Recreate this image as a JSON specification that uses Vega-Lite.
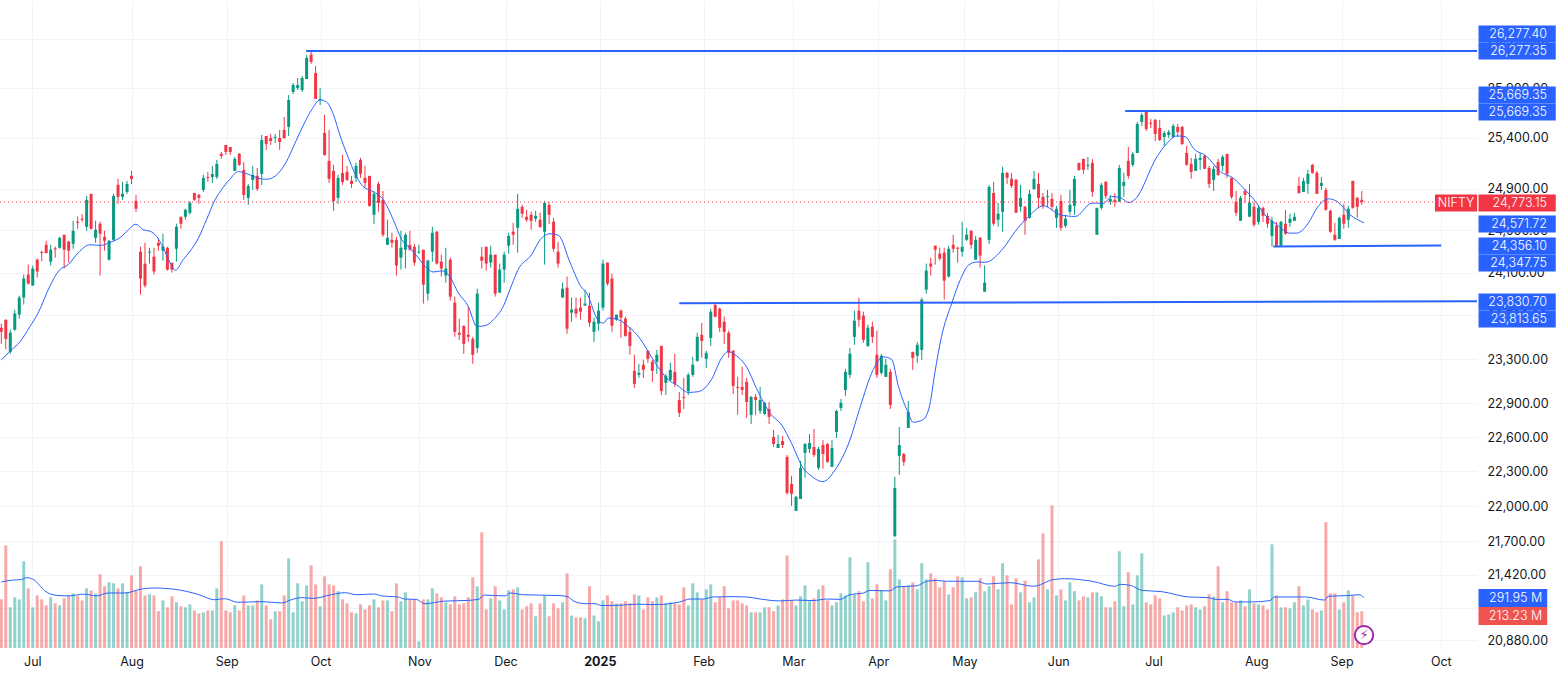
{"$schema":"https://vega.github.io/schema/vega-lite/v6.json","width":1477,"height":648,"autosize":"none","padding":{"left":0,"top":0,"right":91,"bottom":27},"background":"white","config":{"view":{"stroke":null},"font":"Inter"},
"datasets":{"candles":[
{"i":0,"o":23587,"h":23624,"l":23439,"c":23549,"v":282},{"i":1,"o":23661,"h":23661,"l":23390,"c":23484,"v":595},{"i":2,"o":23366,"h":23569,"l":23348,"c":23541,"v":236},{"i":3,"o":23568,"h":23754,"l":23559,"c":23717,"v":294},{"i":4,"o":23708,"h":23884,"l":23670,"c":23866,"v":282},{"i":5,"o":23866,"h":24081,"l":23801,"c":24044,"v":503},{"i":6,"o":24081,"h":24175,"l":23987,"c":23997,"v":346},{"i":7,"o":23978,"h":24166,"l":23978,"c":24138,"v":236},{"i":8,"o":24222,"h":24232,"l":24053,"c":24110,"v":305},{"i":9,"o":24294,"h":24310,"l":24207,"c":24285,"v":282},
{"i":10,"o":24363,"h":24401,"l":24279,"c":24285,"v":247},{"i":11,"o":24203,"h":24363,"l":24166,"c":24316,"v":294},{"i":12,"o":24329,"h":24347,"l":24241,"c":24319,"v":259},{"i":13,"o":24335,"h":24439,"l":24325,"c":24429,"v":247},{"i":14,"o":24458,"h":24458,"l":24138,"c":24316,"v":288},{"i":15,"o":24394,"h":24401,"l":24194,"c":24307,"v":305},{"i":16,"o":24372,"h":24592,"l":24325,"c":24496,"v":317},{"i":17,"o":24583,"h":24634,"l":24516,"c":24573,"v":300},{"i":18,"o":24612,"h":24656,"l":24583,"c":24602,"v":276},{"i":19,"o":24535,"h":24832,"l":24496,"c":24794,"v":346},
{"i":20,"o":24852,"h":24852,"l":24506,"c":24516,"v":334},{"i":21,"o":24429,"h":24592,"l":24382,"c":24506,"v":317},{"i":22,"o":24564,"h":24583,"l":24072,"c":24468,"v":427},{"i":23,"o":24439,"h":24496,"l":24307,"c":24401,"v":358},{"i":24,"o":24222,"h":24410,"l":24213,"c":24401,"v":381},{"i":25,"o":24410,"h":24852,"l":24401,"c":24832,"v":375},{"i":26,"o":24939,"h":24998,"l":24756,"c":24823,"v":346},{"i":27,"o":24823,"h":24968,"l":24794,"c":24852,"v":375},{"i":28,"o":24871,"h":24978,"l":24852,"c":24948,"v":323},{"i":29,"o":25027,"h":25076,"l":24948,"c":24997,"v":421},
{"i":30,"o":24784,"h":24842,"l":24679,"c":24708,"v":334},{"i":31,"o":24297,"h":24344,"l":23894,"c":24044,"v":474},{"i":32,"o":24184,"h":24382,"l":23959,"c":23978,"v":305},{"i":33,"o":24288,"h":24335,"l":24184,"c":24297,"v":311},{"i":34,"o":24250,"h":24335,"l":24081,"c":24110,"v":305},{"i":35,"o":24382,"h":24420,"l":24307,"c":24354,"v":213},{"i":36,"o":24307,"h":24468,"l":24213,"c":24347,"v":276},{"i":37,"o":24335,"h":24344,"l":24119,"c":24128,"v":236},{"i":38,"o":24191,"h":24194,"l":24100,"c":24128,"v":300},{"i":39,"o":24325,"h":24564,"l":24203,"c":24535,"v":265},
{"i":40,"o":24631,"h":24631,"l":24516,"c":24564,"v":242},{"i":41,"o":24631,"h":24708,"l":24602,"c":24698,"v":236},{"i":42,"o":24669,"h":24784,"l":24650,"c":24765,"v":253},{"i":43,"o":24861,"h":24861,"l":24784,"c":24794,"v":218},{"i":44,"o":24842,"h":24852,"l":24756,"c":24813,"v":201},{"i":45,"o":24890,"h":25037,"l":24871,"c":25007,"v":207},{"i":46,"o":25017,"h":25066,"l":24968,"c":25007,"v":218},{"i":47,"o":25017,"h":25125,"l":24958,"c":25046,"v":218},{"i":48,"o":25017,"h":25184,"l":24997,"c":25145,"v":346},{"i":49,"o":25243,"h":25262,"l":25194,"c":25223,"v":619},
{"i":50,"o":25331,"h":25331,"l":25233,"c":25262,"v":218},{"i":51,"o":25311,"h":25311,"l":25233,"c":25262,"v":207},{"i":52,"o":25076,"h":25213,"l":25076,"c":25194,"v":247},{"i":53,"o":25243,"h":25252,"l":25125,"c":25135,"v":218},{"i":54,"o":25086,"h":25164,"l":24794,"c":24842,"v":305},{"i":55,"o":24813,"h":24948,"l":24746,"c":24929,"v":247},{"i":56,"o":24988,"h":25125,"l":24890,"c":25037,"v":247},{"i":57,"o":25027,"h":25105,"l":24880,"c":24899,"v":276},{"i":58,"o":25046,"h":25430,"l":24939,"c":25380,"v":369},{"i":59,"o":25420,"h":25420,"l":25282,"c":25341,"v":247},
{"i":60,"o":25400,"h":25440,"l":25331,"c":25370,"v":166},{"i":61,"o":25400,"h":25440,"l":25351,"c":25410,"v":213},{"i":62,"o":25400,"h":25480,"l":25282,"c":25360,"v":213},{"i":63,"o":25480,"h":25610,"l":25390,"c":25400,"v":305},{"i":64,"o":25510,"h":25830,"l":25420,"c":25780,"v":520},{"i":65,"o":25860,"h":25951,"l":25840,"c":25931,"v":207},{"i":66,"o":25900,"h":26002,"l":25880,"c":25931,"v":375},{"i":67,"o":25880,"h":26023,"l":25860,"c":26002,"v":271},{"i":68,"o":25992,"h":26237,"l":25992,"c":26206,"v":363},{"i":69,"o":26240,"h":26277,"l":26145,"c":26166,"v":479},
{"i":70,"o":26053,"h":26125,"l":25790,"c":25790,"v":369},{"i":71,"o":25780,"h":25900,"l":25730,"c":25790,"v":242},{"i":72,"o":25450,"h":25630,"l":25223,"c":25233,"v":416},{"i":73,"o":25174,"h":25480,"l":24958,"c":24997,"v":369},{"i":74,"o":25076,"h":25135,"l":24688,"c":24784,"v":363},{"i":75,"o":24813,"h":25037,"l":24756,"c":25007,"v":329},{"i":76,"o":25056,"h":25233,"l":24939,"c":24968,"v":282},{"i":77,"o":25066,"h":25125,"l":24978,"c":24988,"v":259},{"i":78,"o":24978,"h":25027,"l":24910,"c":24949,"v":207},{"i":79,"o":25008,"h":25155,"l":24968,"c":25125,"v":201},
{"i":80,"o":25184,"h":25204,"l":25008,"c":25047,"v":253},{"i":81,"o":25008,"h":25125,"l":24910,"c":24959,"v":224},{"i":82,"o":25027,"h":25027,"l":24727,"c":24736,"v":247},{"i":83,"o":24650,"h":24880,"l":24563,"c":24852,"v":282},{"i":84,"o":24949,"h":24968,"l":24679,"c":24765,"v":236},{"i":85,"o":24794,"h":24880,"l":24439,"c":24458,"v":276},{"i":86,"o":24363,"h":24602,"l":24363,"c":24429,"v":276},{"i":87,"o":24410,"h":24477,"l":24335,"c":24382,"v":213},{"i":88,"o":24410,"h":24439,"l":24072,"c":24166,"v":375},{"i":89,"o":24241,"h":24496,"l":24128,"c":24335,"v":271},
{"i":90,"o":24316,"h":24477,"l":24138,"c":24458,"v":323},{"i":91,"o":24363,"h":24496,"l":24307,"c":24316,"v":282},{"i":92,"o":24344,"h":24372,"l":24166,"c":24194,"v":282},{"i":93,"o":24288,"h":24363,"l":24279,"c":24297,"v":39},{"i":94,"o":24316,"h":24316,"l":23810,"c":23987,"v":282},{"i":95,"o":23903,"h":24222,"l":23838,"c":24213,"v":282},{"i":96,"o":24297,"h":24535,"l":24203,"c":24477,"v":346},{"i":97,"o":24487,"h":24496,"l":24175,"c":24185,"v":317},{"i":98,"o":24203,"h":24269,"l":24063,"c":24138,"v":294},{"i":99,"o":24072,"h":24335,"l":24006,"c":24138,"v":265},
{"i":100,"o":24222,"h":24241,"l":23838,"c":23875,"v":253},{"i":101,"o":23819,"h":23875,"l":23503,"c":23549,"v":300},{"i":102,"o":23540,"h":23670,"l":23475,"c":23522,"v":253},{"i":103,"o":23605,"h":23605,"l":23348,"c":23439,"v":259},{"i":104,"o":23522,"h":23782,"l":23457,"c":23503,"v":294},{"i":105,"o":23484,"h":23503,"l":23257,"c":23339,"v":410},{"i":106,"o":23402,"h":23949,"l":23357,"c":23903,"v":358},{"i":107,"o":24250,"h":24344,"l":24138,"c":24213,"v":671},{"i":108,"o":24344,"h":24344,"l":24119,"c":24185,"v":224},{"i":109,"o":24194,"h":24354,"l":24147,"c":24269,"v":288},
{"i":110,"o":24269,"h":24269,"l":23875,"c":23903,"v":358},{"i":111,"o":23912,"h":24185,"l":23912,"c":24128,"v":276},{"i":112,"o":24128,"h":24297,"l":24006,"c":24269,"v":224},{"i":113,"o":24354,"h":24477,"l":24279,"c":24448,"v":334},{"i":114,"o":24487,"h":24573,"l":24363,"c":24458,"v":340},{"i":115,"o":24525,"h":24852,"l":24288,"c":24708,"v":352},{"i":116,"o":24727,"h":24746,"l":24621,"c":24660,"v":224},{"i":117,"o":24631,"h":24698,"l":24583,"c":24602,"v":242},{"i":118,"o":24650,"h":24679,"l":24506,"c":24592,"v":259},{"i":119,"o":24612,"h":24688,"l":24583,"c":24640,"v":184},
{"i":120,"o":24602,"h":24669,"l":24525,"c":24532,"v":259},{"i":121,"o":24487,"h":24784,"l":24175,"c":24765,"v":305},{"i":122,"o":24746,"h":24775,"l":24563,"c":24650,"v":184},{"i":123,"o":24583,"h":24621,"l":24297,"c":24325,"v":259},{"i":124,"o":24297,"h":24391,"l":24147,"c":24185,"v":230},{"i":125,"o":23866,"h":24006,"l":23866,"c":23949,"v":265},{"i":126,"o":23959,"h":24063,"l":23531,"c":23577,"v":433},{"i":127,"o":23726,"h":23866,"l":23643,"c":23754,"v":189},{"i":128,"o":23763,"h":23866,"l":23680,"c":23717,"v":178},{"i":129,"o":23773,"h":23866,"l":23661,"c":23735,"v":178},
{"i":130,"o":23791,"h":23940,"l":23791,"c":23810,"v":172},{"i":131,"o":23791,"h":23912,"l":23596,"c":23633,"v":358},{"i":132,"o":23549,"h":23680,"l":23457,"c":23642,"v":189},{"i":133,"o":23624,"h":23819,"l":23559,"c":23745,"v":155},{"i":134,"o":23773,"h":24222,"l":23745,"c":24185,"v":276},{"i":135,"o":24194,"h":24194,"l":23977,"c":23996,"v":305},{"i":136,"o":24043,"h":24090,"l":23549,"c":23605,"v":271},{"i":137,"o":23661,"h":23707,"l":23651,"c":23707,"v":259},{"i":138,"o":23745,"h":23754,"l":23494,"c":23680,"v":259},{"i":139,"o":23670,"h":23689,"l":23503,"c":23512,"v":271},
{"i":140,"o":23549,"h":23596,"l":23339,"c":23420,"v":259},{"i":141,"o":23193,"h":23339,"l":23038,"c":23075,"v":311},{"i":142,"o":23157,"h":23257,"l":23130,"c":23175,"v":305},{"i":143,"o":23248,"h":23293,"l":23130,"c":23202,"v":224},{"i":144,"o":23375,"h":23384,"l":23266,"c":23302,"v":294},{"i":145,"o":23275,"h":23293,"l":23093,"c":23193,"v":271},{"i":146,"o":23275,"h":23384,"l":23166,"c":23339,"v":294},{"i":147,"o":23420,"h":23420,"l":22975,"c":23011,"v":305},{"i":148,"o":23084,"h":23166,"l":22975,"c":23148,"v":259},{"i":149,"o":23111,"h":23266,"l":23102,"c":23202,"v":265},
{"i":150,"o":23184,"h":23348,"l":23048,"c":23075,"v":259},{"i":151,"o":22931,"h":23002,"l":22779,"c":22815,"v":253},{"i":152,"o":22958,"h":23129,"l":22851,"c":22949,"v":352},{"i":153,"o":23011,"h":23175,"l":22975,"c":23157,"v":247},{"i":154,"o":23157,"h":23320,"l":23139,"c":23248,"v":375},{"i":155,"o":23284,"h":23540,"l":23275,"c":23503,"v":323},{"i":156,"o":23522,"h":23630,"l":23311,"c":23466,"v":282},{"i":157,"o":23302,"h":23375,"l":23220,"c":23357,"v":340},{"i":158,"o":23493,"h":23763,"l":23420,"c":23735,"v":369},{"i":159,"o":23800,"h":23800,"l":23680,"c":23689,"v":265},
{"i":160,"o":23763,"h":23773,"l":23549,"c":23587,"v":294},{"i":161,"o":23642,"h":23689,"l":23439,"c":23549,"v":358},{"i":162,"o":23540,"h":23559,"l":23311,"c":23357,"v":230},{"i":163,"o":23375,"h":23384,"l":22984,"c":23057,"v":276},{"i":164,"o":23048,"h":23139,"l":22798,"c":23039,"v":276},{"i":165,"o":23048,"h":23230,"l":22975,"c":23020,"v":259},{"i":166,"o":23093,"h":23130,"l":22771,"c":22913,"v":247},{"i":167,"o":22798,"h":22967,"l":22717,"c":22958,"v":207},{"i":168,"o":22958,"h":22984,"l":22798,"c":22931,"v":207},{"i":169,"o":22833,"h":23048,"l":22806,"c":22931,"v":207},
{"i":170,"o":22806,"h":22913,"l":22798,"c":22905,"v":236},{"i":171,"o":22851,"h":22913,"l":22717,"c":22780,"v":236},{"i":172,"o":22602,"h":22664,"l":22514,"c":22540,"v":213},{"i":173,"o":22505,"h":22620,"l":22505,"c":22540,"v":247},{"i":174,"o":22566,"h":22611,"l":22505,"c":22531,"v":282},{"i":175,"o":22427,"h":22444,"l":22097,"c":22114,"v":537},{"i":176,"o":22192,"h":22262,"l":22002,"c":22106,"v":276},{"i":177,"o":21959,"h":22088,"l":21959,"c":22080,"v":247},{"i":178,"o":22062,"h":22392,"l":22062,"c":22331,"v":300},{"i":179,"o":22462,"h":22549,"l":22244,"c":22540,"v":363},
{"i":180,"o":22497,"h":22628,"l":22462,"c":22549,"v":271},{"i":181,"o":22514,"h":22673,"l":22427,"c":22444,"v":288},{"i":182,"o":22331,"h":22514,"l":22314,"c":22497,"v":340},{"i":183,"o":22531,"h":22575,"l":22323,"c":22453,"v":363},{"i":184,"o":22540,"h":22549,"l":22375,"c":22383,"v":276},{"i":185,"o":22340,"h":22575,"l":22340,"c":22505,"v":247},{"i":186,"o":22646,"h":22842,"l":22593,"c":22833,"v":265},{"i":187,"o":22860,"h":22940,"l":22833,"c":22905,"v":317},{"i":188,"o":23020,"h":23211,"l":22967,"c":23184,"v":305},{"i":189,"o":23157,"h":23402,"l":23130,"c":23348,"v":526},
{"i":190,"o":23503,"h":23745,"l":23430,"c":23652,"v":311},{"i":191,"o":23745,"h":23866,"l":23596,"c":23661,"v":329},{"i":192,"o":23698,"h":23735,"l":23448,"c":23475,"v":271},{"i":193,"o":23420,"h":23615,"l":23411,"c":23587,"v":497},{"i":194,"o":23596,"h":23642,"l":23448,"c":23503,"v":288},{"i":195,"o":23339,"h":23559,"l":23130,"c":23157,"v":369},{"i":196,"o":23175,"h":23348,"l":23157,"c":23330,"v":334},{"i":197,"o":23139,"h":23302,"l":23139,"c":23248,"v":276},{"i":198,"o":23184,"h":23211,"l":22851,"c":22886,"v":456},{"i":199,"o":21744,"h":22253,"l":21735,"c":22157,"v":630},
{"i":200,"o":22436,"h":22691,"l":22270,"c":22531,"v":398},{"i":201,"o":22453,"h":22462,"l":22349,"c":22383,"v":358},{"i":202,"o":22682,"h":22922,"l":22682,"c":22824,"v":363},{"i":203,"o":23366,"h":23366,"l":23202,"c":23311,"v":381},{"i":204,"o":23330,"h":23457,"l":23266,"c":23430,"v":340},{"i":205,"o":23384,"h":23866,"l":23293,"c":23847,"v":491},{"i":206,"o":23940,"h":24185,"l":23903,"c":24119,"v":398},{"i":207,"o":24185,"h":24241,"l":24072,"c":24157,"v":433},{"i":208,"o":24354,"h":24354,"l":24175,"c":24316,"v":404},{"i":209,"o":24279,"h":24335,"l":24213,"c":24232,"v":352},
{"i":210,"o":24288,"h":24335,"l":23847,"c":24025,"v":387},{"i":211,"o":24063,"h":24354,"l":24053,"c":24325,"v":311},{"i":212,"o":24363,"h":24458,"l":24288,"c":24325,"v":352},{"i":213,"o":24335,"h":24344,"l":24194,"c":24325,"v":416},{"i":214,"o":24297,"h":24582,"l":24250,"c":24344,"v":410},{"i":215,"o":24410,"h":24525,"l":24400,"c":24458,"v":288},{"i":216,"o":24496,"h":24506,"l":24325,"c":24363,"v":294},{"i":217,"o":24222,"h":24448,"l":24222,"c":24410,"v":323},{"i":218,"o":24429,"h":24438,"l":24147,"c":24260,"v":404},{"i":219,"o":23921,"h":24166,"l":23921,"c":24006,"v":329},
{"i":220,"o":24410,"h":24939,"l":24372,"c":24919,"v":358},{"i":221,"o":24861,"h":24968,"l":24544,"c":24564,"v":416},{"i":222,"o":24602,"h":24765,"l":24535,"c":24660,"v":340},{"i":223,"o":24679,"h":25116,"l":24487,"c":25057,"v":491},{"i":224,"o":25057,"h":25066,"l":24949,"c":25008,"v":421},{"i":225,"o":24998,"h":25057,"l":24909,"c":24929,"v":253},{"i":226,"o":24988,"h":24998,"l":24669,"c":24669,"v":404},{"i":227,"o":24727,"h":24939,"l":24679,"c":24813,"v":323},{"i":228,"o":24727,"h":24736,"l":24458,"c":24592,"v":392},{"i":229,"o":24621,"h":24890,"l":24612,"c":24852,"v":265},
{"i":230,"o":24900,"h":25076,"l":24890,"c":24998,"v":294},{"i":231,"o":24949,"h":25057,"l":24717,"c":24813,"v":514},{"i":232,"o":24823,"h":24861,"l":24708,"c":24736,"v":665},{"i":233,"o":24823,"h":24890,"l":24727,"c":24832,"v":340},{"i":234,"o":24804,"h":24861,"l":24698,"c":24727,"v":827},{"i":235,"o":24621,"h":24736,"l":24525,"c":24708,"v":305},{"i":236,"o":24784,"h":24842,"l":24496,"c":24525,"v":340},{"i":237,"o":24544,"h":24650,"l":24525,"c":24612,"v":276},{"i":238,"o":24679,"h":24890,"l":24650,"c":24746,"v":381},{"i":239,"o":24736,"h":25027,"l":24650,"c":24998,"v":329},
{"i":240,"o":25154,"h":25154,"l":25076,"c":25086,"v":276},{"i":241,"o":25194,"h":25194,"l":25047,"c":25086,"v":300},{"i":242,"o":25125,"h":25213,"l":25086,"c":25135,"v":294},{"i":243,"o":25154,"h":25194,"l":24823,"c":24871,"v":323},{"i":244,"o":24458,"h":24717,"l":24458,"c":24717,"v":323},{"i":245,"o":24717,"h":24959,"l":24698,"c":24939,"v":300},{"i":246,"o":24968,"h":24978,"l":24804,"c":24832,"v":236},{"i":247,"o":24775,"h":24842,"l":24746,"c":24804,"v":236},{"i":248,"o":24794,"h":24861,"l":24727,"c":24775,"v":271},{"i":249,"o":24775,"h":25135,"l":24775,"c":25105,"v":561},
{"i":250,"o":24929,"h":25057,"l":24823,"c":24968,"v":242},{"i":251,"o":25174,"h":25311,"l":24998,"c":25027,"v":439},{"i":252,"o":25135,"h":25262,"l":25116,"c":25243,"v":253},{"i":253,"o":25252,"h":25560,"l":25252,"c":25540,"v":421},{"i":254,"o":25560,"h":25650,"l":25520,"c":25630,"v":549},{"i":255,"o":25669,"h":25669,"l":25470,"c":25490,"v":265},{"i":256,"o":25550,"h":25590,"l":25500,"c":25540,"v":253},{"i":257,"o":25580,"h":25590,"l":25370,"c":25440,"v":305},{"i":258,"o":25500,"h":25580,"l":25370,"c":25380,"v":288},{"i":259,"o":25410,"h":25470,"l":25321,"c":25450,"v":189},
{"i":260,"o":25430,"h":25480,"l":25400,"c":25460,"v":195},{"i":261,"o":25410,"h":25540,"l":25400,"c":25520,"v":207},{"i":262,"o":25510,"h":25540,"l":25410,"c":25460,"v":236},{"i":263,"o":25510,"h":25520,"l":25331,"c":25341,"v":218},{"i":264,"o":25252,"h":25321,"l":25125,"c":25135,"v":247},{"i":265,"o":25145,"h":25203,"l":24998,"c":25066,"v":253},{"i":266,"o":25076,"h":25243,"l":25076,"c":25194,"v":236},{"i":267,"o":25184,"h":25252,"l":25086,"c":25203,"v":224},{"i":268,"o":25223,"h":25233,"l":25096,"c":25096,"v":242},{"i":269,"o":25105,"h":25125,"l":24909,"c":24949,"v":311},
{"i":270,"o":24988,"h":25125,"l":24880,"c":25096,"v":300},{"i":271,"o":25164,"h":25194,"l":25027,"c":25037,"v":474},{"i":272,"o":25125,"h":25233,"l":25076,"c":25213,"v":265},{"i":273,"o":25243,"h":25243,"l":25008,"c":25047,"v":329},{"i":274,"o":25008,"h":25008,"l":24804,"c":24823,"v":265},{"i":275,"o":24775,"h":24880,"l":24640,"c":24669,"v":265},{"i":276,"o":24592,"h":24832,"l":24592,"c":24813,"v":276},{"i":277,"o":24880,"h":24900,"l":24765,"c":24842,"v":242},{"i":278,"o":24631,"h":24949,"l":24631,"c":24765,"v":340},{"i":279,"o":24727,"h":24775,"l":24535,"c":24554,"v":259},
{"i":280,"o":24582,"h":24736,"l":24554,"c":24717,"v":253},{"i":281,"o":24717,"h":24727,"l":24582,"c":24640,"v":247},{"i":282,"o":24640,"h":24669,"l":24525,"c":24564,"v":224},{"i":283,"o":24448,"h":24631,"l":24347,"c":24592,"v":601},{"i":284,"o":24544,"h":24582,"l":24347,"c":24354,"v":305},{"i":285,"o":24354,"h":24592,"l":24347,"c":24582,"v":236},{"i":286,"o":24564,"h":24698,"l":24458,"c":24468,"v":236},{"i":287,"o":24573,"h":24660,"l":24535,"c":24612,"v":230},{"i":288,"o":24592,"h":24669,"l":24592,"c":24631,"v":265},{"i":289,"o":24929,"h":25017,"l":24852,"c":24861,"v":358},
{"i":290,"o":24871,"h":25008,"l":24871,"c":24978,"v":247},{"i":291,"o":24949,"h":25086,"l":24852,"c":25047,"v":282},{"i":292,"o":25135,"h":25145,"l":25047,"c":25057,"v":224},{"i":293,"o":25057,"h":25076,"l":24852,"c":24852,"v":207},{"i":294,"o":24929,"h":25017,"l":24890,"c":24959,"v":218},{"i":295,"o":24890,"h":24909,"l":24688,"c":24698,"v":729},{"i":296,"o":24688,"h":24698,"l":24477,"c":24487,"v":317},{"i":297,"o":24458,"h":24573,"l":24400,"c":24410,"v":317},{"i":298,"o":24419,"h":24631,"l":24419,"c":24621,"v":224},{"i":299,"o":24650,"h":24756,"l":24516,"c":24564,"v":265},
{"i":300,"o":24602,"h":24736,"l":24525,"c":24708,"v":334},{"i":301,"o":24978,"h":24978,"l":24708,"c":24717,"v":305},{"i":302,"o":24813,"h":24823,"l":24621,"c":24727,"v":207},{"i":303,"o":24794,"h":24880,"l":24746,"c":24773,"v":213}
],
"ma":[{"i":0,"p":23293},{"i":1.9,"p":23369},{"i":4.2,"p":23460},{"i":6.4,"p":23599},{"i":8.2,"p":23723},{"i":10.8,"p":23971},{"i":12.9,"p":24122},{"i":14.9,"p":24175},{"i":17.1,"p":24285},{"i":19.7,"p":24363},{"i":22,"p":24357},{"i":24.2,"p":24385},{"i":26.8,"p":24442},{"i":28.3,"p":24506},{"i":30,"p":24560},{"i":31.6,"p":24506},{"i":33.1,"p":24493},{"i":34.6,"p":24442},{"i":36.1,"p":24332},{"i":37.6,"p":24191},{"i":38.8,"p":24122},{"i":40.5,"p":24222},{"i":42,"p":24300},{"i":43.9,"p":24426},{"i":45.7,"p":24602},{"i":47.6,"p":24794},{"i":49,"p":24890},{"i":50.9,"p":24994},{"i":52.8,"p":25069},{"i":55,"p":25043},{"i":57.2,"p":25004},{"i":59.1,"p":24994},{"i":61.7,"p":25053},{"i":63.5,"p":25167},{"i":65.4,"p":25347},{"i":67.3,"p":25530},{"i":69.1,"p":25680},{"i":71,"p":25780},{"i":72.5,"p":25757},{"i":74,"p":25630},{"i":75.4,"p":25430},{"i":76.9,"p":25249},{"i":79.1,"p":25021},{"i":80.6,"p":24923},{"i":82.8,"p":24874},{"i":85.1,"p":24794},{"i":87.3,"p":24602},{"i":89.2,"p":24410},{"i":91,"p":24332},{"i":92.9,"p":24238},{"i":94.7,"p":24144},{"i":96.2,"p":24106},{"i":98.1,"p":24116},{"i":99.6,"p":24081},{"i":101.8,"p":23909},{"i":104,"p":23785},{"i":105.9,"p":23599},{"i":107.7,"p":23605},{"i":109.6,"p":23661},{"i":111.8,"p":23785},{"i":113.7,"p":23987},{"i":115.1,"p":24128},{"i":118.1,"p":24269},{"i":120,"p":24410},{"i":122.2,"p":24468},{"i":124.1,"p":24452},{"i":126.7,"p":24191},{"i":129.3,"p":23956},{"i":130.4,"p":23909},{"i":132.6,"p":23676},{"i":134.1,"p":23629},{"i":135.2,"p":23676},{"i":137.8,"p":23654},{"i":139.6,"p":23599},{"i":142.2,"p":23490},{"i":144.5,"p":23339},{"i":146.7,"p":23202},{"i":148.6,"p":23111},{"i":150.4,"p":23066},{"i":153,"p":22999},{"i":155.2,"p":23005},{"i":158.2,"p":23117},{"i":160.4,"p":23308},{"i":161.9,"p":23369},{"i":163.4,"p":23339},{"i":166,"p":23227},{"i":168.2,"p":23035},{"i":171.2,"p":22812},{"i":173.8,"p":22708},{"i":176,"p":22546},{"i":178.6,"p":22328},{"i":180.1,"p":22270},{"i":183,"p":22212},{"i":185.7,"p":22314},{"i":189,"p":22575},{"i":191.2,"p":22857},{"i":194.2,"p":23205},{"i":196.4,"p":23321},{"i":198.3,"p":23296},{"i":199.8,"p":23054},{"i":202,"p":22815},{"i":203.1,"p":22732},{"i":205.3,"p":22756},{"i":206.8,"p":22889},{"i":207.9,"p":23172},{"i":209.4,"p":23506},{"i":211.7,"p":23816},{"i":213.6,"p":24035},{"i":215.4,"p":24169},{"i":217.3,"p":24200},{"i":219.1,"p":24197},{"i":223.2,"p":24332},{"i":225.8,"p":24490},{"i":228.8,"p":24634},{"i":232.1,"p":24736},{"i":235.8,"p":24650},{"i":239.2,"p":24634},{"i":242.9,"p":24762},{"i":245.5,"p":24762},{"i":247.3,"p":24826},{"i":249.2,"p":24816},{"i":251.1,"p":24768},{"i":252.5,"p":24800},{"i":257.4,"p":25216},{"i":259.6,"p":25347},{"i":261.8,"p":25420},{"i":263.7,"p":25413},{"i":265.5,"p":25298},{"i":268.5,"p":25216},{"i":271.5,"p":25069},{"i":274.4,"p":25004},{"i":276.7,"p":24906},{"i":279.6,"p":24762},{"i":281.1,"p":24666},{"i":284.1,"p":24554},{"i":287,"p":24474},{"i":288.5,"p":24474},{"i":291.1,"p":24570},{"i":293,"p":24714},{"i":295.6,"p":24804},{"i":297.5,"p":24778},{"i":300.4,"p":24650},{"i":303.5,"p":24572}],
"vma":[{"i":0,"v":383},{"i":2.2,"v":393},{"i":4.5,"v":397},{"i":5.6,"v":408},{"i":7.4,"v":393},{"i":8.5,"v":364},{"i":9.7,"v":331},{"i":12.2,"v":306},{"i":14.8,"v":302},{"i":18.6,"v":312},{"i":21.2,"v":302},{"i":23.8,"v":319},{"i":27.5,"v":319},{"i":31.2,"v":342},{"i":34.1,"v":348},{"i":39.3,"v":338},{"i":43.8,"v":311},{"i":47.5,"v":280},{"i":49.7,"v":286},{"i":52.7,"v":265},{"i":57.9,"v":269},{"i":62.4,"v":261},{"i":64.6,"v":280},{"i":66.8,"v":292},{"i":69.4,"v":288},{"i":73.5,"v":309},{"i":76.5,"v":321},{"i":79.1,"v":309},{"i":83.1,"v":313},{"i":84.7,"v":302},{"i":88.3,"v":296},{"i":89.8,"v":284},{"i":92.4,"v":282},{"i":94.3,"v":257},{"i":98.7,"v":272},{"i":103.9,"v":276},{"i":106.5,"v":284},{"i":107.4,"v":307},{"i":112.2,"v":302},{"i":113.3,"v":319},{"i":116.3,"v":309},{"i":124.4,"v":304},{"i":126.3,"v":296},{"i":127.4,"v":273},{"i":130,"v":257},{"i":132.2,"v":257},{"i":133.7,"v":246},{"i":137.8,"v":248},{"i":141.5,"v":254},{"i":145.9,"v":252},{"i":151.1,"v":267},{"i":153.4,"v":284},{"i":156.3,"v":284},{"i":158.6,"v":296},{"i":163,"v":298},{"i":166,"v":296},{"i":169,"v":284},{"i":173.4,"v":273},{"i":177.1,"v":278},{"i":180.8,"v":275},{"i":183.8,"v":284},{"i":186.8,"v":282},{"i":189,"v":309},{"i":192,"v":319},{"i":193.5,"v":334},{"i":197.9,"v":331},{"i":199.4,"v":354},{"i":203.9,"v":361},{"i":206.1,"v":387},{"i":208.3,"v":392},{"i":210.5,"v":387},{"i":217.4,"v":387},{"i":219.5,"v":371},{"i":224.7,"v":379},{"i":229.9,"v":358},{"i":234.2,"v":396},{"i":236.8,"v":402},{"i":242.9,"v":387},{"i":248,"v":358},{"i":249.3,"v":369},{"i":251.5,"v":363},{"i":254.1,"v":334},{"i":258.4,"v":327},{"i":264.4,"v":296},{"i":268.8,"v":292},{"i":270.5,"v":282},{"i":273.1,"v":282},{"i":274.8,"v":267},{"i":278.3,"v":267},{"i":282.6,"v":275},{"i":283.5,"v":296},{"i":290.4,"v":296},{"i":294.7,"v":278},{"i":295.5,"v":300},{"i":299.9,"v":304},{"i":302.4,"v":309},{"i":303.5,"v":292}],
"levels":[{"level":"a","i":67.9,"p":26277.35},{"level":"a","i":328.66,"p":26277.4},{"level":"b","i":250.3,"p":25669.35},{"level":"b","i":328.66,"p":25669.35},{"level":"c","i":283.3,"p":24347.75},{"level":"c","i":320.7,"p":24356.1},{"level":"d","i":151,"p":23813.65},{"level":"d","i":328.66,"p":23830.7}],
"tags":[{"label":"26,277.40","slot":26452,"kind":"level"},{"label":"26,277.35","slot":26277,"kind":"level"},{"label":"25,669.35","slot":25830,"kind":"level"},{"label":"25,669.35","slot":25659,"kind":"level"},{"label":"24,773.15","slot":24764,"kind":"close"},{"label":"24,571.72","slot":24562,"kind":"level"},{"label":"24,356.10","slot":24351,"kind":"level"},{"label":"24,347.75","slot":24190,"kind":"level"},{"label":"23,830.70","slot":23825,"kind":"level"},{"label":"23,813.65","slot":23668,"kind":"level"}],
"voltags":[{"label":"291.95 M","slot":21225,"kind":"level"},{"label":"213.23 M","slot":21077,"kind":"vol"}]
},
"layer":[
{"encoding":{"x":{"field":"i","type":"quantitative","title":null,"scale":{"domain":[-0.29,328.66],"nice":false,"zero":false,"padding":0},"axis":{"values":[6.9,29,50.2,71.1,93.1,112.3,133.3,156.4,176.4,195.3,214.5,235.4,256.6,279.5,298.5,320.6],"labelExpr":"datum.value<10?'Jul':datum.value<40?'Aug':datum.value<60?'Sep':datum.value<80?'Oct':datum.value<100?'Nov':datum.value<120?'Dec':datum.value<140?'2025':datum.value<160?'Feb':datum.value<180?'Mar':datum.value<200?'Apr':datum.value<220?'May':datum.value<240?'Jun':datum.value<260?'Jul':datum.value<290?'Aug':datum.value<310?'Sep':'Oct'","labelFontWeight":{"condition":{"test":"datum.value==133.3","value":"bold"},"value":"normal"},"grid":true,"gridColor":"#f0f3fa","gridWidth":1,"domain":false,"ticks":false,"labelColor":"#131722","labelFont":"Inter","labelFontSize":12.5,"labelPadding":7,"labelOverlap":false,"labelFlush":false}}},
"layer":[
{"data":{"name":"candles"},"mark":{"type":"bar","orient":"vertical","width":3,"opacity":0.5},"encoding":{"y":{"field":"v","type":"quantitative","stack":null,"title":null,"scale":{"domain":[0,3758],"nice":false},"axis":null},"color":{"condition":{"test":"datum.c>=datum.o","value":"#26a69a"},"value":"#ef5350"}}},
{"data":{"name":"vma"},"mark":{"type":"line","color":"#2962ff","strokeWidth":1,"interpolate":"monotone"},"encoding":{"y":{"field":"v","type":"quantitative","title":null,"scale":{"domain":[0,3758],"nice":false},"axis":null}}}
]},
{"layer":[
{"encoding":{"x":{"field":"i","type":"quantitative","title":null,"scale":{"domain":[-0.29,328.66],"nice":false,"zero":false,"padding":0}}},
"layer":[
{"data":{"name":"candles"},"mark":{"type":"rule","strokeWidth":1},"encoding":{"y":{"field":"l","type":"quantitative","title":null,"scale":{"type":"log","domain":[20815,26805.6],"nice":false},"axis":{"orient":"right","values":[26400,25900,25400,24900,24500,24100,23700,23300,22900,22600,22300,22000,21700,21420,21140,20880],"format":",.2f","grid":true,"gridColor":"#f0f3fa","gridWidth":1,"domain":false,"ticks":false,"labelColor":"#131722","labelFont":"Inter","labelFontSize":12.5,"labelPadding":10,"labelOverlap":false,"labelFlush":false}},"y2":{"field":"h"},"color":{"condition":{"test":"datum.c>=datum.o","value":"#089981"},"value":"#f23645"}}},
{"data":{"name":"candles"},"mark":{"type":"bar","orient":"vertical","width":3},"encoding":{"y":{"field":"o","type":"quantitative","stack":null,"title":null,"scale":{"type":"log","domain":[20815,26805.6],"nice":false}},"y2":{"field":"c"},"color":{"condition":{"test":"datum.c>=datum.o","value":"#089981"},"value":"#f23645"}}},
{"data":{"name":"ma"},"mark":{"type":"line","color":"#2962ff","strokeWidth":1,"interpolate":"monotone"},"encoding":{"y":{"field":"p","type":"quantitative","title":null,"scale":{"type":"log","domain":[20815,26805.6],"nice":false}}}},
{"data":{"name":"levels"},"mark":{"type":"line","color":"#2962ff","strokeWidth":2},"encoding":{"y":{"field":"p","type":"quantitative","title":null,"scale":{"type":"log","domain":[20815,26805.6],"nice":false}},"detail":{"field":"level"}}},
{"data":{"values":[{"i":303.5,"p":20920,"bolt":"⚡"}]},"mark":{"type":"point","filled":false,"shape":"circle","size":340,"stroke":"#9c27b0","strokeWidth":2,"fill":"white","fillOpacity":1},"encoding":{"y":{"field":"p","type":"quantitative","title":null,"scale":{"type":"log","domain":[20815,26805.6],"nice":false}}}},
{"data":{"values":[{"i":303.5,"p":20920,"bolt":"⚡"}]},"mark":{"type":"text","color":"#9c27b0","font":"DejaVu Sans","fontSize":13,"align":"center","baseline":"middle"},"encoding":{"y":{"field":"p","type":"quantitative","title":null,"scale":{"type":"log","domain":[20815,26805.6],"nice":false}},"text":{"field":"bolt"}}}
]},
{"data":{"values":[{"close":24773.15}]},"mark":{"type":"rule","color":"#f23645","strokeWidth":1,"strokeDash":[1,3]},"encoding":{"x":{"datum":-0.29,"title":null,"scale":{"domain":[-0.29,328.66],"nice":false,"zero":false,"padding":0}},"x2":{"datum":328.66},"y":{"field":"close","type":"quantitative","title":null,"scale":{"type":"log","domain":[20815,26805.6],"nice":false}}}},
{"data":{"values":[{"close":24764}]},"mark":{"type":"rule","color":"#f23645","strokeWidth":17},"encoding":{"x":{"datum":319.3,"title":null,"scale":{"domain":[-0.29,328.66],"nice":false,"zero":false,"padding":0}},"x2":{"datum":328.7},"y":{"field":"close","type":"quantitative","title":null,"scale":{"type":"log","domain":[20815,26805.6],"nice":false}}}},
{"data":{"values":[{"close":24764,"name":"NIFTY"}]},"mark":{"type":"text","color":"white","font":"Inter","fontSize":12.5,"fontWeight":300,"align":"center","baseline":"middle"},"encoding":{"x":{"datum":324,"title":null,"scale":{"domain":[-0.29,328.66],"nice":false,"zero":false,"padding":0}},"y":{"field":"close","type":"quantitative","title":null,"scale":{"type":"log","domain":[20815,26805.6],"nice":false}},"text":{"field":"name"}}},
{"data":{"name":"tags"},"mark":{"type":"rule","strokeWidth":17},"encoding":{"x":{"datum":329,"title":null,"scale":{"domain":[-0.29,328.66],"nice":false,"zero":false,"padding":0}},"x2":{"datum":346.2},"y":{"field":"slot","type":"quantitative","title":null,"scale":{"type":"log","domain":[20815,26805.6],"nice":false}},"color":{"field":"kind","type":"nominal","legend":null,"scale":{"domain":["level","close","vol"],"range":["#2962ff","#f23645","#ef5350"]}}}},
{"data":{"name":"tags"},"mark":{"type":"text","color":"white","font":"Inter","fontSize":12.5,"fontWeight":300,"align":"right","baseline":"middle"},"encoding":{"x":{"datum":344.25,"title":null,"scale":{"domain":[-0.29,328.66],"nice":false,"zero":false,"padding":0}},"y":{"field":"slot","type":"quantitative","title":null,"scale":{"type":"log","domain":[20815,26805.6],"nice":false}},"text":{"field":"label"}}},
{"data":{"name":"voltags"},"mark":{"type":"rule","strokeWidth":18},"encoding":{"x":{"datum":329,"title":null,"scale":{"domain":[-0.29,328.66],"nice":false,"zero":false,"padding":0}},"x2":{"datum":344.3},"y":{"field":"slot","type":"quantitative","title":null,"scale":{"type":"log","domain":[20815,26805.6],"nice":false}},"color":{"field":"kind","type":"nominal","legend":null,"scale":{"domain":["level","close","vol"],"range":["#2962ff","#f23645","#ef5350"]}}}},
{"data":{"name":"voltags"},"mark":{"type":"text","color":"white","font":"Inter","fontSize":12.5,"fontWeight":300,"align":"right","baseline":"middle"},"encoding":{"x":{"datum":343.2,"title":null,"scale":{"domain":[-0.29,328.66],"nice":false,"zero":false,"padding":0}},"y":{"field":"slot","type":"quantitative","title":null,"scale":{"type":"log","domain":[20815,26805.6],"nice":false}},"text":{"field":"label"}}}
]}
],
"resolve":{"scale":{"y":"independent"}}
}
